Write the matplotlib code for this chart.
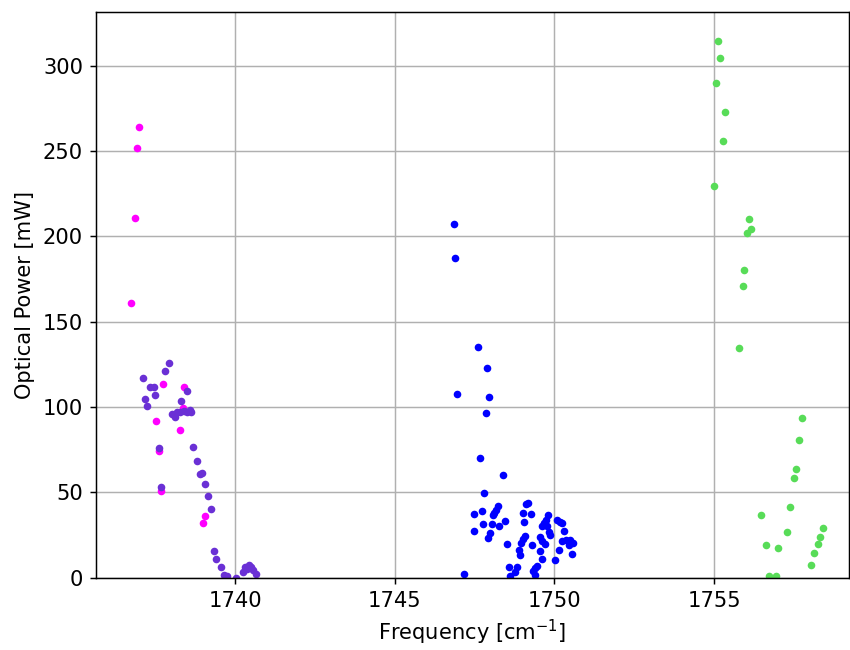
"""
Optical power vs. frequency for the four laser line groups.
Output: out.png
"""

import matplotlib
matplotlib.use("Agg")
import matplotlib.pyplot as plt

plt.rcParams.update({"font.size": 11.4})

# magenta group
freq_a = [1737.00, 1736.93, 1736.85, 1736.75, 1737.75, 1738.41, 1738.35, 1737.52,
          1738.28, 1737.60, 1737.67, 1739.06, 1738.98]
power_a = [264.0, 251.5, 210.7, 160.7, 113.6, 111.5, 99.4, 92.0,
           86.4, 74.4, 51.1, 36.3, 32.2]

# purple group
freq_b = [1737.91, 1737.79, 1737.10, 1737.34, 1737.44, 1737.49, 1737.18, 1737.25,
          1738.49, 1738.31, 1738.02, 1738.12, 1738.17, 1738.28, 1738.38, 1738.49,
          1738.59, 1738.62, 1737.60, 1737.68, 1738.68, 1738.80, 1738.90, 1738.97,
          1739.05, 1739.15, 1739.23, 1739.32, 1739.40, 1739.55, 1739.66, 1739.74,
          1740.03, 1740.24, 1740.31, 1740.42, 1740.50, 1740.57, 1740.66, 1740.37]
power_b = [125.8, 121.3, 116.8, 111.9, 111.9, 107.0, 104.7, 100.4,
           109.5, 103.7, 95.9, 94.5, 97.1, 97.4, 97.8, 97.4,
           98.4, 97.4, 76.3, 53.1, 76.6, 68.4, 60.9, 61.3,
           54.9, 48.2, 40.4, 16.0, 11.3, 6.4, 1.8, 0.8,
           0.2, 3.7, 6.3, 7.4, 6.6, 4.7, 2.2, 5.1]

# blue group
freq_c = [1746.84, 1746.88, 1747.60, 1747.90, 1746.95, 1747.95, 1747.84, 1747.68,
          1748.38, 1747.78, 1747.15, 1747.49, 1747.73, 1748.23, 1748.17, 1748.12,
          1748.07, 1747.76, 1747.49, 1748.05, 1748.26, 1748.46, 1747.99, 1747.92,
          1749.18, 1749.10, 1749.02, 1749.26, 1749.04, 1748.51, 1749.09, 1749.01,
          1748.96, 1748.89, 1748.93, 1749.31, 1749.55, 1749.61, 1749.71, 1749.56,
          1749.61, 1749.81, 1749.74, 1749.66, 1749.61, 1749.78, 1749.84, 1749.87,
          1750.08, 1750.18, 1750.23, 1750.30, 1750.23, 1750.37, 1750.49, 1750.58,
          1750.44, 1750.56, 1750.14, 1750.02, 1748.56, 1748.84, 1748.77, 1748.61,
          1749.40, 1749.45, 1749.32, 1749.40]
power_c = [207.4, 187.1, 135.3, 123.2, 107.4, 105.9, 96.8, 70.1,
           60.5, 49.6, 2.2, 37.5, 39.3, 42.2, 39.8, 37.9,
           36.9, 31.6, 27.7, 31.5, 30.5, 33.4, 26.2, 23.3,
           44.1, 43.4, 37.9, 37.5, 33.0, 19.7, 24.6, 22.7,
           20.3, 16.4, 13.5, 19.3, 24.2, 21.3, 19.9, 16.0,
           11.0, 36.9, 34.0, 32.0, 30.1, 30.1, 27.1, 25.2,
           34.0, 33.0, 32.0, 27.5, 21.3, 22.3, 22.3, 20.3,
           19.3, 13.9, 16.4, 10.5, 6.3, 6.6, 3.7, 1.2,
           5.7, 7.0, 4.1, 1.8]

# green group
freq_d = [1755.12, 1755.19, 1755.05, 1755.34, 1755.27, 1754.99, 1756.08, 1756.14,
          1756.02, 1755.95, 1755.89, 1755.77, 1757.74, 1757.65, 1757.58, 1757.49,
          1757.39, 1756.47, 1757.27, 1758.40, 1758.32, 1758.24, 1758.13, 1758.03,
          1756.61, 1757.01, 1756.71, 1756.95]
power_d = [314.6, 304.4, 289.9, 273.1, 255.7, 229.8, 210.0, 204.3,
           202.2, 180.3, 170.7, 134.6, 93.4, 80.8, 64.0, 58.5,
           41.5, 36.6, 27.1, 29.2, 23.7, 20.0, 14.5, 7.5,
           19.2, 17.3, 1.0, 1.0]

colors = ['#ff00ff', '#6a30d5', '#0000ff', '#58dc58']

fig = plt.figure(figsize=(850 / 133, 650 / 133), dpi=133)
ax = fig.add_axes([0.113, 0.111, 0.886, 0.871])
ax.set_axisbelow(True)
ax.grid(True, color='#b0b0b0', linewidth=0.8)

groups = [(freq_a, power_a), (freq_b, power_b), (freq_c, power_c), (freq_d, power_d)]
for (f, p), c in zip(groups, colors):
    ax.scatter(f, p, s=17, color=c, linewidths=0)

ax.set_xlim(1735.64, 1759.23)
ax.set_ylim(0, 331.6)
ax.set_xticks([1740, 1745, 1750, 1755])
ax.set_yticks([0, 50, 100, 150, 200, 250, 300])
ax.set_xlabel(r'Frequency [cm$^{-1}$]')
ax.set_ylabel('Optical Power [mW]')

fig.savefig('out.png', dpi=133)
